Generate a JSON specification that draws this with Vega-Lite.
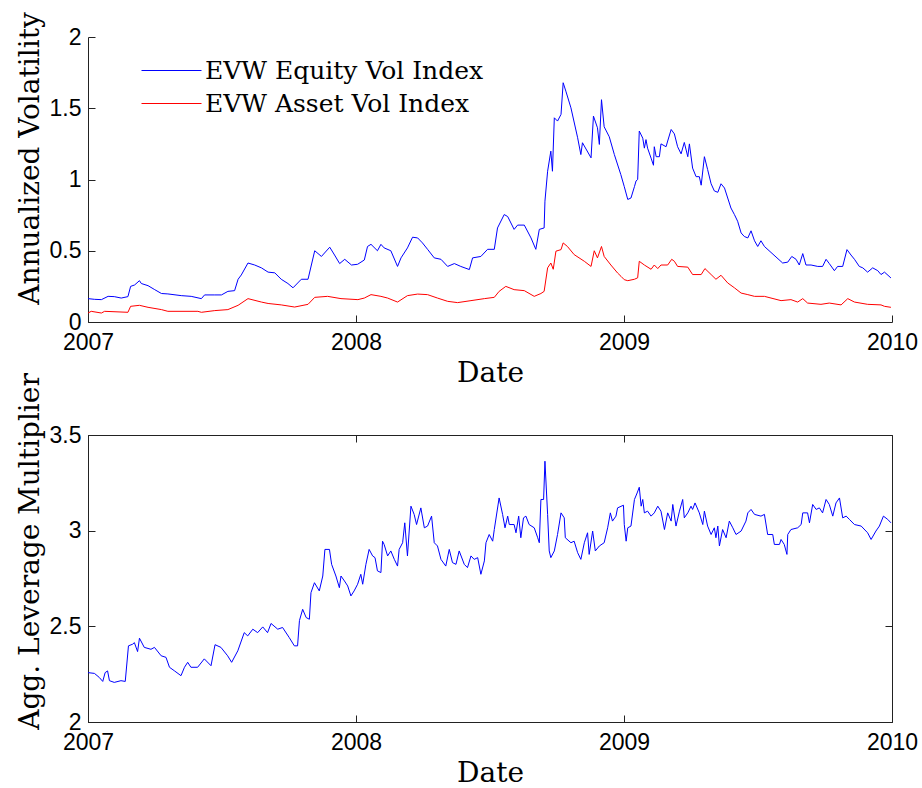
{
  "$schema": "https://vega.github.io/schema/vega-lite/v6.json",
  "background": "white",
  "padding": {"left": 15, "top": 11, "right": 0, "bottom": 0},
  "autosize": {"type": "pad"},
  "bounds": "flush",
  "spacing": 113,
  "config": {
    "view": {"stroke": null},
    "axis": {
      "labelFont": "Liberation Sans",
      "labelFontSize": 23,
      "labelColor": "black",
      "titleFont": "DejaVu Serif",
      "titleFontSize": 28,
      "titleFontWeight": "normal",
      "titleColor": "black",
      "domainColor": "#222222",
      "tickColor": "#222222",
      "grid": false,
      "tickSize": -7,
      "labelPadding": 16,
      "labelOverlap": false
    },
    "legend": {
      "orient": "none",
      "legendX": 53,
      "legendY": 18,
      "title": null,
      "symbolType": "stroke",
      "symbolSize": 3600,
      "symbolStrokeWidth": 1,
      "labelFont": "DejaVu Serif",
      "labelFontSize": 25,
      "labelColor": "black",
      "labelLimit": 600,
      "labelOffset": 3,
      "clipHeight": 31,
      "rowPadding": 2,
      "padding": 0
    }
  },
  "datasets": {
    "vol": [
      {"t":2007.000,"v":0.164,"s":"EVW Equity Vol Index"},{"t":2007.025,"v":0.159,"s":"EVW Equity Vol Index"},{"t":2007.050,"v":0.157,"s":"EVW Equity Vol Index"},{"t":2007.075,"v":0.180,"s":"EVW Equity Vol Index"},{"t":2007.098,"v":0.178,"s":"EVW Equity Vol Index"},{"t":2007.124,"v":0.168,"s":"EVW Equity Vol Index"},{"t":2007.149,"v":0.178,"s":"EVW Equity Vol Index"},{"t":2007.159,"v":0.250,"s":"EVW Equity Vol Index"},{"t":2007.174,"v":0.260,"s":"EVW Equity Vol Index"},{"t":2007.192,"v":0.290,"s":"EVW Equity Vol Index"},{"t":2007.199,"v":0.270,"s":"EVW Equity Vol Index"},{"t":2007.224,"v":0.255,"s":"EVW Equity Vol Index"},{"t":2007.249,"v":0.227,"s":"EVW Equity Vol Index"},{"t":2007.274,"v":0.200,"s":"EVW Equity Vol Index"},{"t":2007.298,"v":0.197,"s":"EVW Equity Vol Index"},{"t":2007.348,"v":0.185,"s":"EVW Equity Vol Index"},{"t":2007.385,"v":0.180,"s":"EVW Equity Vol Index"},{"t":2007.423,"v":0.164,"s":"EVW Equity Vol Index"},{"t":2007.435,"v":0.190,"s":"EVW Equity Vol Index"},{"t":2007.473,"v":0.190,"s":"EVW Equity Vol Index"},{"t":2007.498,"v":0.190,"s":"EVW Equity Vol Index"},{"t":2007.522,"v":0.215,"s":"EVW Equity Vol Index"},{"t":2007.547,"v":0.220,"s":"EVW Equity Vol Index"},{"t":2007.560,"v":0.300,"s":"EVW Equity Vol Index"},{"t":2007.572,"v":0.330,"s":"EVW Equity Vol Index"},{"t":2007.597,"v":0.414,"s":"EVW Equity Vol Index"},{"t":2007.622,"v":0.400,"s":"EVW Equity Vol Index"},{"t":2007.647,"v":0.380,"s":"EVW Equity Vol Index"},{"t":2007.672,"v":0.350,"s":"EVW Equity Vol Index"},{"t":2007.697,"v":0.345,"s":"EVW Equity Vol Index"},{"t":2007.721,"v":0.300,"s":"EVW Equity Vol Index"},{"t":2007.746,"v":0.270,"s":"EVW Equity Vol Index"},{"t":2007.765,"v":0.240,"s":"EVW Equity Vol Index"},{"t":2007.796,"v":0.300,"s":"EVW Equity Vol Index"},{"t":2007.821,"v":0.300,"s":"EVW Equity Vol Index"},{"t":2007.846,"v":0.500,"s":"EVW Equity Vol Index"},{"t":2007.871,"v":0.460,"s":"EVW Equity Vol Index"},{"t":2007.902,"v":0.525,"s":"EVW Equity Vol Index"},{"t":2007.920,"v":0.470,"s":"EVW Equity Vol Index"},{"t":2007.939,"v":0.410,"s":"EVW Equity Vol Index"},{"t":2007.958,"v":0.440,"s":"EVW Equity Vol Index"},{"t":2007.983,"v":0.400,"s":"EVW Equity Vol Index"},{"t":2008.006,"v":0.405,"s":"EVW Equity Vol Index"},{"t":2008.031,"v":0.435,"s":"EVW Equity Vol Index"},{"t":2008.043,"v":0.530,"s":"EVW Equity Vol Index"},{"t":2008.056,"v":0.545,"s":"EVW Equity Vol Index"},{"t":2008.080,"v":0.500,"s":"EVW Equity Vol Index"},{"t":2008.093,"v":0.545,"s":"EVW Equity Vol Index"},{"t":2008.105,"v":0.520,"s":"EVW Equity Vol Index"},{"t":2008.130,"v":0.500,"s":"EVW Equity Vol Index"},{"t":2008.155,"v":0.390,"s":"EVW Equity Vol Index"},{"t":2008.168,"v":0.450,"s":"EVW Equity Vol Index"},{"t":2008.192,"v":0.520,"s":"EVW Equity Vol Index"},{"t":2008.211,"v":0.595,"s":"EVW Equity Vol Index"},{"t":2008.230,"v":0.590,"s":"EVW Equity Vol Index"},{"t":2008.248,"v":0.555,"s":"EVW Equity Vol Index"},{"t":2008.267,"v":0.510,"s":"EVW Equity Vol Index"},{"t":2008.292,"v":0.450,"s":"EVW Equity Vol Index"},{"t":2008.317,"v":0.440,"s":"EVW Equity Vol Index"},{"t":2008.342,"v":0.390,"s":"EVW Equity Vol Index"},{"t":2008.367,"v":0.410,"s":"EVW Equity Vol Index"},{"t":2008.391,"v":0.390,"s":"EVW Equity Vol Index"},{"t":2008.423,"v":0.368,"s":"EVW Equity Vol Index"},{"t":2008.435,"v":0.450,"s":"EVW Equity Vol Index"},{"t":2008.466,"v":0.460,"s":"EVW Equity Vol Index"},{"t":2008.491,"v":0.510,"s":"EVW Equity Vol Index"},{"t":2008.516,"v":0.510,"s":"EVW Equity Vol Index"},{"t":2008.528,"v":0.660,"s":"EVW Equity Vol Index"},{"t":2008.553,"v":0.754,"s":"EVW Equity Vol Index"},{"t":2008.566,"v":0.740,"s":"EVW Equity Vol Index"},{"t":2008.590,"v":0.650,"s":"EVW Equity Vol Index"},{"t":2008.603,"v":0.680,"s":"EVW Equity Vol Index"},{"t":2008.628,"v":0.680,"s":"EVW Equity Vol Index"},{"t":2008.653,"v":0.590,"s":"EVW Equity Vol Index"},{"t":2008.671,"v":0.510,"s":"EVW Equity Vol Index"},{"t":2008.684,"v":0.650,"s":"EVW Equity Vol Index"},{"t":2008.702,"v":0.660,"s":"EVW Equity Vol Index"},{"t":2008.705,"v":0.848,"s":"EVW Equity Vol Index"},{"t":2008.715,"v":1.058,"s":"EVW Equity Vol Index"},{"t":2008.727,"v":1.199,"s":"EVW Equity Vol Index"},{"t":2008.733,"v":1.058,"s":"EVW Equity Vol Index"},{"t":2008.740,"v":1.433,"s":"EVW Equity Vol Index"},{"t":2008.752,"v":1.410,"s":"EVW Equity Vol Index"},{"t":2008.765,"v":1.457,"s":"EVW Equity Vol Index"},{"t":2008.773,"v":1.679,"s":"EVW Equity Vol Index"},{"t":2008.783,"v":1.620,"s":"EVW Equity Vol Index"},{"t":2008.802,"v":1.503,"s":"EVW Equity Vol Index"},{"t":2008.827,"v":1.293,"s":"EVW Equity Vol Index"},{"t":2008.839,"v":1.175,"s":"EVW Equity Vol Index"},{"t":2008.845,"v":1.258,"s":"EVW Equity Vol Index"},{"t":2008.877,"v":1.152,"s":"EVW Equity Vol Index"},{"t":2008.886,"v":1.445,"s":"EVW Equity Vol Index"},{"t":2008.901,"v":1.363,"s":"EVW Equity Vol Index"},{"t":2008.908,"v":1.246,"s":"EVW Equity Vol Index"},{"t":2008.916,"v":1.560,"s":"EVW Equity Vol Index"},{"t":2008.926,"v":1.370,"s":"EVW Equity Vol Index"},{"t":2008.945,"v":1.300,"s":"EVW Equity Vol Index"},{"t":2008.964,"v":1.175,"s":"EVW Equity Vol Index"},{"t":2008.988,"v":1.035,"s":"EVW Equity Vol Index"},{"t":2009.001,"v":0.950,"s":"EVW Equity Vol Index"},{"t":2009.014,"v":0.860,"s":"EVW Equity Vol Index"},{"t":2009.026,"v":0.870,"s":"EVW Equity Vol Index"},{"t":2009.039,"v":0.950,"s":"EVW Equity Vol Index"},{"t":2009.045,"v":0.990,"s":"EVW Equity Vol Index"},{"t":2009.051,"v":1.000,"s":"EVW Equity Vol Index"},{"t":2009.057,"v":1.340,"s":"EVW Equity Vol Index"},{"t":2009.070,"v":1.290,"s":"EVW Equity Vol Index"},{"t":2009.076,"v":1.220,"s":"EVW Equity Vol Index"},{"t":2009.082,"v":1.280,"s":"EVW Equity Vol Index"},{"t":2009.088,"v":1.220,"s":"EVW Equity Vol Index"},{"t":2009.101,"v":1.150,"s":"EVW Equity Vol Index"},{"t":2009.110,"v":1.100,"s":"EVW Equity Vol Index"},{"t":2009.113,"v":1.230,"s":"EVW Equity Vol Index"},{"t":2009.120,"v":1.160,"s":"EVW Equity Vol Index"},{"t":2009.132,"v":1.160,"s":"EVW Equity Vol Index"},{"t":2009.138,"v":1.250,"s":"EVW Equity Vol Index"},{"t":2009.157,"v":1.230,"s":"EVW Equity Vol Index"},{"t":2009.163,"v":1.270,"s":"EVW Equity Vol Index"},{"t":2009.176,"v":1.351,"s":"EVW Equity Vol Index"},{"t":2009.188,"v":1.320,"s":"EVW Equity Vol Index"},{"t":2009.200,"v":1.230,"s":"EVW Equity Vol Index"},{"t":2009.213,"v":1.180,"s":"EVW Equity Vol Index"},{"t":2009.225,"v":1.260,"s":"EVW Equity Vol Index"},{"t":2009.238,"v":1.160,"s":"EVW Equity Vol Index"},{"t":2009.244,"v":1.250,"s":"EVW Equity Vol Index"},{"t":2009.256,"v":1.080,"s":"EVW Equity Vol Index"},{"t":2009.269,"v":1.020,"s":"EVW Equity Vol Index"},{"t":2009.281,"v":1.020,"s":"EVW Equity Vol Index"},{"t":2009.288,"v":0.960,"s":"EVW Equity Vol Index"},{"t":2009.300,"v":1.160,"s":"EVW Equity Vol Index"},{"t":2009.312,"v":1.070,"s":"EVW Equity Vol Index"},{"t":2009.325,"v":0.970,"s":"EVW Equity Vol Index"},{"t":2009.337,"v":0.920,"s":"EVW Equity Vol Index"},{"t":2009.350,"v":0.910,"s":"EVW Equity Vol Index"},{"t":2009.362,"v":0.970,"s":"EVW Equity Vol Index"},{"t":2009.375,"v":0.940,"s":"EVW Equity Vol Index"},{"t":2009.387,"v":0.870,"s":"EVW Equity Vol Index"},{"t":2009.399,"v":0.800,"s":"EVW Equity Vol Index"},{"t":2009.412,"v":0.754,"s":"EVW Equity Vol Index"},{"t":2009.424,"v":0.707,"s":"EVW Equity Vol Index"},{"t":2009.437,"v":0.625,"s":"EVW Equity Vol Index"},{"t":2009.449,"v":0.600,"s":"EVW Equity Vol Index"},{"t":2009.462,"v":0.590,"s":"EVW Equity Vol Index"},{"t":2009.474,"v":0.640,"s":"EVW Equity Vol Index"},{"t":2009.487,"v":0.570,"s":"EVW Equity Vol Index"},{"t":2009.499,"v":0.530,"s":"EVW Equity Vol Index"},{"t":2009.511,"v":0.570,"s":"EVW Equity Vol Index"},{"t":2009.524,"v":0.530,"s":"EVW Equity Vol Index"},{"t":2009.592,"v":0.414,"s":"EVW Equity Vol Index"},{"t":2009.611,"v":0.420,"s":"EVW Equity Vol Index"},{"t":2009.626,"v":0.460,"s":"EVW Equity Vol Index"},{"t":2009.642,"v":0.440,"s":"EVW Equity Vol Index"},{"t":2009.654,"v":0.400,"s":"EVW Equity Vol Index"},{"t":2009.667,"v":0.480,"s":"EVW Equity Vol Index"},{"t":2009.679,"v":0.400,"s":"EVW Equity Vol Index"},{"t":2009.698,"v":0.400,"s":"EVW Equity Vol Index"},{"t":2009.723,"v":0.390,"s":"EVW Equity Vol Index"},{"t":2009.741,"v":0.390,"s":"EVW Equity Vol Index"},{"t":2009.754,"v":0.440,"s":"EVW Equity Vol Index"},{"t":2009.766,"v":0.410,"s":"EVW Equity Vol Index"},{"t":2009.785,"v":0.360,"s":"EVW Equity Vol Index"},{"t":2009.797,"v":0.390,"s":"EVW Equity Vol Index"},{"t":2009.816,"v":0.390,"s":"EVW Equity Vol Index"},{"t":2009.832,"v":0.508,"s":"EVW Equity Vol Index"},{"t":2009.847,"v":0.470,"s":"EVW Equity Vol Index"},{"t":2009.860,"v":0.440,"s":"EVW Equity Vol Index"},{"t":2009.878,"v":0.390,"s":"EVW Equity Vol Index"},{"t":2009.891,"v":0.380,"s":"EVW Equity Vol Index"},{"t":2009.909,"v":0.350,"s":"EVW Equity Vol Index"},{"t":2009.928,"v":0.380,"s":"EVW Equity Vol Index"},{"t":2009.947,"v":0.360,"s":"EVW Equity Vol Index"},{"t":2009.959,"v":0.333,"s":"EVW Equity Vol Index"},{"t":2009.972,"v":0.350,"s":"EVW Equity Vol Index"},{"t":2009.996,"v":0.309,"s":"EVW Equity Vol Index"},
      {"t":2007.000,"v":0.063,"s":"EVW Asset Vol Index"},{"t":2007.012,"v":0.075,"s":"EVW Asset Vol Index"},{"t":2007.050,"v":0.063,"s":"EVW Asset Vol Index"},{"t":2007.062,"v":0.075,"s":"EVW Asset Vol Index"},{"t":2007.149,"v":0.068,"s":"EVW Asset Vol Index"},{"t":2007.159,"v":0.110,"s":"EVW Asset Vol Index"},{"t":2007.192,"v":0.117,"s":"EVW Asset Vol Index"},{"t":2007.224,"v":0.103,"s":"EVW Asset Vol Index"},{"t":2007.274,"v":0.087,"s":"EVW Asset Vol Index"},{"t":2007.298,"v":0.075,"s":"EVW Asset Vol Index"},{"t":2007.410,"v":0.075,"s":"EVW Asset Vol Index"},{"t":2007.423,"v":0.068,"s":"EVW Asset Vol Index"},{"t":2007.473,"v":0.080,"s":"EVW Asset Vol Index"},{"t":2007.522,"v":0.087,"s":"EVW Asset Vol Index"},{"t":2007.560,"v":0.117,"s":"EVW Asset Vol Index"},{"t":2007.597,"v":0.164,"s":"EVW Asset Vol Index"},{"t":2007.647,"v":0.140,"s":"EVW Asset Vol Index"},{"t":2007.672,"v":0.130,"s":"EVW Asset Vol Index"},{"t":2007.721,"v":0.120,"s":"EVW Asset Vol Index"},{"t":2007.771,"v":0.105,"s":"EVW Asset Vol Index"},{"t":2007.821,"v":0.124,"s":"EVW Asset Vol Index"},{"t":2007.846,"v":0.173,"s":"EVW Asset Vol Index"},{"t":2007.894,"v":0.180,"s":"EVW Asset Vol Index"},{"t":2007.944,"v":0.164,"s":"EVW Asset Vol Index"},{"t":2008.007,"v":0.157,"s":"EVW Asset Vol Index"},{"t":2008.031,"v":0.168,"s":"EVW Asset Vol Index"},{"t":2008.056,"v":0.192,"s":"EVW Asset Vol Index"},{"t":2008.093,"v":0.180,"s":"EVW Asset Vol Index"},{"t":2008.118,"v":0.168,"s":"EVW Asset Vol Index"},{"t":2008.155,"v":0.140,"s":"EVW Asset Vol Index"},{"t":2008.192,"v":0.185,"s":"EVW Asset Vol Index"},{"t":2008.230,"v":0.196,"s":"EVW Asset Vol Index"},{"t":2008.267,"v":0.192,"s":"EVW Asset Vol Index"},{"t":2008.304,"v":0.168,"s":"EVW Asset Vol Index"},{"t":2008.342,"v":0.145,"s":"EVW Asset Vol Index"},{"t":2008.379,"v":0.136,"s":"EVW Asset Vol Index"},{"t":2008.429,"v":0.150,"s":"EVW Asset Vol Index"},{"t":2008.479,"v":0.164,"s":"EVW Asset Vol Index"},{"t":2008.516,"v":0.173,"s":"EVW Asset Vol Index"},{"t":2008.534,"v":0.215,"s":"EVW Asset Vol Index"},{"t":2008.559,"v":0.250,"s":"EVW Asset Vol Index"},{"t":2008.590,"v":0.227,"s":"EVW Asset Vol Index"},{"t":2008.628,"v":0.220,"s":"EVW Asset Vol Index"},{"t":2008.665,"v":0.180,"s":"EVW Asset Vol Index"},{"t":2008.690,"v":0.200,"s":"EVW Asset Vol Index"},{"t":2008.702,"v":0.215,"s":"EVW Asset Vol Index"},{"t":2008.715,"v":0.380,"s":"EVW Asset Vol Index"},{"t":2008.727,"v":0.414,"s":"EVW Asset Vol Index"},{"t":2008.736,"v":0.370,"s":"EVW Asset Vol Index"},{"t":2008.746,"v":0.497,"s":"EVW Asset Vol Index"},{"t":2008.765,"v":0.508,"s":"EVW Asset Vol Index"},{"t":2008.773,"v":0.555,"s":"EVW Asset Vol Index"},{"t":2008.789,"v":0.530,"s":"EVW Asset Vol Index"},{"t":2008.814,"v":0.473,"s":"EVW Asset Vol Index"},{"t":2008.852,"v":0.426,"s":"EVW Asset Vol Index"},{"t":2008.877,"v":0.390,"s":"EVW Asset Vol Index"},{"t":2008.889,"v":0.500,"s":"EVW Asset Vol Index"},{"t":2008.901,"v":0.450,"s":"EVW Asset Vol Index"},{"t":2008.916,"v":0.530,"s":"EVW Asset Vol Index"},{"t":2008.926,"v":0.460,"s":"EVW Asset Vol Index"},{"t":2008.951,"v":0.400,"s":"EVW Asset Vol Index"},{"t":2008.976,"v":0.344,"s":"EVW Asset Vol Index"},{"t":2008.989,"v":0.320,"s":"EVW Asset Vol Index"},{"t":2009.001,"v":0.297,"s":"EVW Asset Vol Index"},{"t":2009.014,"v":0.290,"s":"EVW Asset Vol Index"},{"t":2009.039,"v":0.300,"s":"EVW Asset Vol Index"},{"t":2009.051,"v":0.310,"s":"EVW Asset Vol Index"},{"t":2009.057,"v":0.426,"s":"EVW Asset Vol Index"},{"t":2009.076,"v":0.400,"s":"EVW Asset Vol Index"},{"t":2009.101,"v":0.370,"s":"EVW Asset Vol Index"},{"t":2009.113,"v":0.400,"s":"EVW Asset Vol Index"},{"t":2009.126,"v":0.375,"s":"EVW Asset Vol Index"},{"t":2009.138,"v":0.400,"s":"EVW Asset Vol Index"},{"t":2009.163,"v":0.400,"s":"EVW Asset Vol Index"},{"t":2009.178,"v":0.440,"s":"EVW Asset Vol Index"},{"t":2009.188,"v":0.426,"s":"EVW Asset Vol Index"},{"t":2009.200,"v":0.390,"s":"EVW Asset Vol Index"},{"t":2009.238,"v":0.385,"s":"EVW Asset Vol Index"},{"t":2009.256,"v":0.333,"s":"EVW Asset Vol Index"},{"t":2009.288,"v":0.333,"s":"EVW Asset Vol Index"},{"t":2009.302,"v":0.375,"s":"EVW Asset Vol Index"},{"t":2009.325,"v":0.333,"s":"EVW Asset Vol Index"},{"t":2009.343,"v":0.300,"s":"EVW Asset Vol Index"},{"t":2009.362,"v":0.328,"s":"EVW Asset Vol Index"},{"t":2009.387,"v":0.274,"s":"EVW Asset Vol Index"},{"t":2009.412,"v":0.240,"s":"EVW Asset Vol Index"},{"t":2009.437,"v":0.203,"s":"EVW Asset Vol Index"},{"t":2009.462,"v":0.192,"s":"EVW Asset Vol Index"},{"t":2009.487,"v":0.180,"s":"EVW Asset Vol Index"},{"t":2009.524,"v":0.180,"s":"EVW Asset Vol Index"},{"t":2009.586,"v":0.150,"s":"EVW Asset Vol Index"},{"t":2009.623,"v":0.157,"s":"EVW Asset Vol Index"},{"t":2009.648,"v":0.140,"s":"EVW Asset Vol Index"},{"t":2009.667,"v":0.164,"s":"EVW Asset Vol Index"},{"t":2009.685,"v":0.133,"s":"EVW Asset Vol Index"},{"t":2009.735,"v":0.124,"s":"EVW Asset Vol Index"},{"t":2009.766,"v":0.133,"s":"EVW Asset Vol Index"},{"t":2009.810,"v":0.120,"s":"EVW Asset Vol Index"},{"t":2009.835,"v":0.164,"s":"EVW Asset Vol Index"},{"t":2009.860,"v":0.140,"s":"EVW Asset Vol Index"},{"t":2009.909,"v":0.124,"s":"EVW Asset Vol Index"},{"t":2009.959,"v":0.120,"s":"EVW Asset Vol Index"},{"t":2009.972,"v":0.110,"s":"EVW Asset Vol Index"},{"t":2009.996,"v":0.103,"s":"EVW Asset Vol Index"}
    ],
    "lev": [
      {"t":2007.000,"v":2.258},{"t":2007.024,"v":2.254},{"t":2007.042,"v":2.233},{"t":2007.055,"v":2.212},{"t":2007.064,"v":2.258},{"t":2007.073,"v":2.267},{"t":2007.080,"v":2.216},{"t":2007.098,"v":2.207},{"t":2007.123,"v":2.216},{"t":2007.139,"v":2.212},{"t":2007.151,"v":2.398},{"t":2007.167,"v":2.407},{"t":2007.173,"v":2.415},{"t":2007.185,"v":2.368},{"t":2007.192,"v":2.438},{"t":2007.210,"v":2.390},{"t":2007.235,"v":2.380},{"t":2007.248,"v":2.390},{"t":2007.273,"v":2.346},{"t":2007.291,"v":2.338},{"t":2007.304,"v":2.286},{"t":2007.322,"v":2.268},{"t":2007.347,"v":2.242},{"t":2007.360,"v":2.286},{"t":2007.372,"v":2.312},{"t":2007.384,"v":2.286},{"t":2007.409,"v":2.286},{"t":2007.434,"v":2.330},{"t":2007.459,"v":2.294},{"t":2007.474,"v":2.404},{"t":2007.496,"v":2.390},{"t":2007.521,"v":2.346},{"t":2007.536,"v":2.312},{"t":2007.559,"v":2.372},{"t":2007.583,"v":2.467},{"t":2007.596,"v":2.450},{"t":2007.615,"v":2.485},{"t":2007.633,"v":2.467},{"t":2007.652,"v":2.497},{"t":2007.670,"v":2.467},{"t":2007.683,"v":2.515},{"t":2007.708,"v":2.485},{"t":2007.726,"v":2.494},{"t":2007.751,"v":2.441},{"t":2007.770,"v":2.398},{"t":2007.782,"v":2.398},{"t":2007.789,"v":2.530},{"t":2007.801,"v":2.589},{"t":2007.814,"v":2.546},{"t":2007.826,"v":2.537},{"t":2007.832,"v":2.676},{"t":2007.845,"v":2.728},{"t":2007.863,"v":2.685},{"t":2007.876,"v":2.763},{"t":2007.884,"v":2.902},{"t":2007.901,"v":2.902},{"t":2007.909,"v":2.824},{"t":2007.925,"v":2.763},{"t":2007.938,"v":2.702},{"t":2007.944,"v":2.763},{"t":2007.957,"v":2.737},{"t":2007.969,"v":2.711},{"t":2007.981,"v":2.659},{"t":2007.993,"v":2.685},{"t":2008.006,"v":2.720},{"t":2008.018,"v":2.772},{"t":2008.025,"v":2.720},{"t":2008.037,"v":2.824},{"t":2008.049,"v":2.902},{"t":2008.062,"v":2.868},{"t":2008.071,"v":2.859},{"t":2008.080,"v":2.790},{"t":2008.093,"v":2.781},{"t":2008.099,"v":2.945},{"t":2008.105,"v":2.928},{"t":2008.118,"v":2.868},{"t":2008.130,"v":2.894},{"t":2008.143,"v":2.850},{"t":2008.155,"v":2.815},{"t":2008.161,"v":2.902},{"t":2008.174,"v":2.937},{"t":2008.182,"v":3.041},{"t":2008.192,"v":2.868},{"t":2008.205,"v":3.128},{"t":2008.217,"v":3.085},{"t":2008.226,"v":3.032},{"t":2008.242,"v":3.119},{"t":2008.255,"v":3.015},{"t":2008.267,"v":3.024},{"t":2008.282,"v":3.076},{"t":2008.292,"v":2.937},{"t":2008.304,"v":2.920},{"t":2008.317,"v":2.850},{"t":2008.335,"v":2.815},{"t":2008.348,"v":2.902},{"t":2008.360,"v":2.833},{"t":2008.373,"v":2.824},{"t":2008.385,"v":2.894},{"t":2008.404,"v":2.824},{"t":2008.416,"v":2.807},{"t":2008.429,"v":2.868},{"t":2008.441,"v":2.850},{"t":2008.454,"v":2.859},{"t":2008.466,"v":2.772},{"t":2008.479,"v":2.842},{"t":2008.485,"v":2.937},{"t":2008.497,"v":2.980},{"t":2008.510,"v":2.945},{"t":2008.516,"v":3.006},{"t":2008.534,"v":3.171},{"t":2008.547,"v":3.085},{"t":2008.556,"v":3.015},{"t":2008.566,"v":3.076},{"t":2008.572,"v":3.032},{"t":2008.590,"v":3.032},{"t":2008.597,"v":2.989},{"t":2008.607,"v":3.076},{"t":2008.615,"v":2.963},{"t":2008.625,"v":3.067},{"t":2008.634,"v":3.076},{"t":2008.646,"v":3.032},{"t":2008.665,"v":3.015},{"t":2008.678,"v":2.963},{"t":2008.684,"v":2.937},{"t":2008.690,"v":3.163},{"t":2008.700,"v":3.163},{"t":2008.705,"v":3.363},{"t":2008.715,"v":3.085},{"t":2008.721,"v":2.894},{"t":2008.727,"v":2.859},{"t":2008.740,"v":2.894},{"t":2008.752,"v":2.980},{"t":2008.765,"v":3.093},{"t":2008.777,"v":3.067},{"t":2008.781,"v":2.963},{"t":2008.802,"v":2.937},{"t":2008.814,"v":2.945},{"t":2008.827,"v":2.885},{"t":2008.839,"v":2.850},{"t":2008.852,"v":2.937},{"t":2008.864,"v":2.989},{"t":2008.870,"v":2.876},{"t":2008.883,"v":2.998},{"t":2008.893,"v":2.894},{"t":2008.908,"v":2.920},{"t":2008.926,"v":2.937},{"t":2008.939,"v":3.015},{"t":2008.949,"v":3.093},{"t":2008.957,"v":3.050},{"t":2008.970,"v":3.076},{"t":2008.976,"v":3.119},{"t":2008.998,"v":3.133},{"t":2009.001,"v":3.032},{"t":2009.008,"v":2.945},{"t":2009.014,"v":3.015},{"t":2009.026,"v":3.024},{"t":2009.039,"v":3.163},{"t":2009.049,"v":3.197},{"t":2009.057,"v":3.227},{"t":2009.064,"v":3.128},{"t":2009.070,"v":3.163},{"t":2009.076,"v":3.093},{"t":2009.088,"v":3.102},{"t":2009.101,"v":3.076},{"t":2009.113,"v":3.093},{"t":2009.126,"v":3.128},{"t":2009.138,"v":3.102},{"t":2009.151,"v":3.006},{"t":2009.163,"v":3.093},{"t":2009.176,"v":3.050},{"t":2009.182,"v":3.137},{"t":2009.194,"v":3.024},{"t":2009.207,"v":3.102},{"t":2009.219,"v":3.163},{"t":2009.225,"v":3.067},{"t":2009.238,"v":3.093},{"t":2009.250,"v":3.128},{"t":2009.256,"v":3.111},{"t":2009.265,"v":3.145},{"t":2009.281,"v":3.093},{"t":2009.294,"v":3.032},{"t":2009.300,"v":3.102},{"t":2009.312,"v":3.024},{"t":2009.325,"v":2.980},{"t":2009.337,"v":3.015},{"t":2009.343,"v":2.963},{"t":2009.350,"v":3.024},{"t":2009.356,"v":2.920},{"t":2009.368,"v":3.006},{"t":2009.381,"v":2.963},{"t":2009.393,"v":3.050},{"t":2009.406,"v":3.015},{"t":2009.418,"v":2.980},{"t":2009.437,"v":2.998},{"t":2009.455,"v":3.050},{"t":2009.462,"v":3.093},{"t":2009.474,"v":3.111},{"t":2009.487,"v":3.085},{"t":2009.511,"v":3.076},{"t":2009.524,"v":3.085},{"t":2009.536,"v":2.980},{"t":2009.555,"v":2.980},{"t":2009.561,"v":2.928},{"t":2009.580,"v":2.928},{"t":2009.586,"v":2.954},{"t":2009.598,"v":2.928},{"t":2009.608,"v":2.876},{"t":2009.611,"v":2.980},{"t":2009.623,"v":3.006},{"t":2009.648,"v":3.015},{"t":2009.661,"v":3.032},{"t":2009.667,"v":3.093},{"t":2009.685,"v":3.093},{"t":2009.692,"v":3.041},{"t":2009.704,"v":3.137},{"t":2009.717,"v":3.111},{"t":2009.729,"v":3.119},{"t":2009.741,"v":3.093},{"t":2009.754,"v":3.163},{"t":2009.766,"v":3.137},{"t":2009.779,"v":3.076},{"t":2009.791,"v":3.145},{"t":2009.804,"v":3.171},{"t":2009.816,"v":3.067},{"t":2009.829,"v":3.076},{"t":2009.841,"v":3.059},{"t":2009.860,"v":3.032},{"t":2009.885,"v":3.024},{"t":2009.909,"v":2.989},{"t":2009.922,"v":2.954},{"t":2009.940,"v":2.998},{"t":2009.953,"v":3.024},{"t":2009.968,"v":3.076},{"t":2009.984,"v":3.059},{"t":2009.996,"v":3.041}
    ]
  },
  "vconcat": [
    {
      "width": 804,
      "height": 285,
      "data": {"name": "vol"},
      "mark": {"type": "line", "strokeWidth": 1},
      "encoding": {
        "x": {"field": "t", "type": "quantitative", "scale": {"domain": [2007, 2010], "nice": false, "zero": false},
              "axis": {"values": [2007, 2008, 2009, 2010], "format": "d", "title": "Date", "labelFlush": false, "titleBaseline": "alphabetic", "titleY": 59}},
        "y": {"field": "v", "type": "quantitative", "scale": {"domain": [0, 2], "nice": false},
              "axis": {"values": [0, 0.5, 1, 1.5, 2], "format": "~g", "title": "Annualized Volatility", "titleX": -50, "titleY": 121, "titleBaseline": "alphabetic", "labelPadding": 14}},
        "color": {"field": "s", "type": "nominal",
                  "scale": {"domain": ["EVW Equity Vol Index", "EVW Asset Vol Index"], "range": ["#0000ff", "#ff0000"]},
                  "legend": {"title": null}}
      }
    },
    {
      "width": 804,
      "height": 287,
      "data": {"name": "lev"},
      "view": {"stroke": "#222222", "strokeWidth": 1},
      "layer": [
        {
          "mark": {"type": "line", "color": "#0000ff", "strokeWidth": 1},
          "encoding": {
            "x": {"field": "t", "type": "quantitative", "scale": {"domain": [2007, 2010], "nice": false, "zero": false},
                  "axis": {"values": [2007, 2008, 2009, 2010], "format": "d", "title": "Date", "labelFlush": false, "titleBaseline": "alphabetic", "titleY": 59}},
            "y": {"field": "v", "type": "quantitative", "scale": {"domain": [2, 3.5], "nice": false, "zero": false},
                  "axis": {"values": [2, 2.5, 3, 3.5], "format": "~g", "title": "Agg. Leverage Multiplier", "titleX": -50, "titleY": 116, "titleBaseline": "alphabetic", "labelPadding": 14}}
          }
        },
        {
          "transform": [{"filter": "false"}],
          "mark": {"type": "line", "color": "#0000ff", "strokeWidth": 1},
          "encoding": {
            "x": {"field": "t", "type": "quantitative", "scale": {"domain": [2007, 2010], "nice": false, "zero": false},
                  "axis": {"orient": "top", "values": [2007, 2008, 2009, 2010], "labels": false, "title": null, "domain": false}},
            "y": {"field": "v", "type": "quantitative", "scale": {"domain": [2, 3.5], "nice": false, "zero": false},
                  "axis": {"orient": "right", "values": [2, 2.5, 3, 3.5], "labels": false, "title": null, "domain": false}}
          }
        }
      ],
      "resolve": {"axis": {"x": "independent", "y": "independent"}}
    }
  ]
}
